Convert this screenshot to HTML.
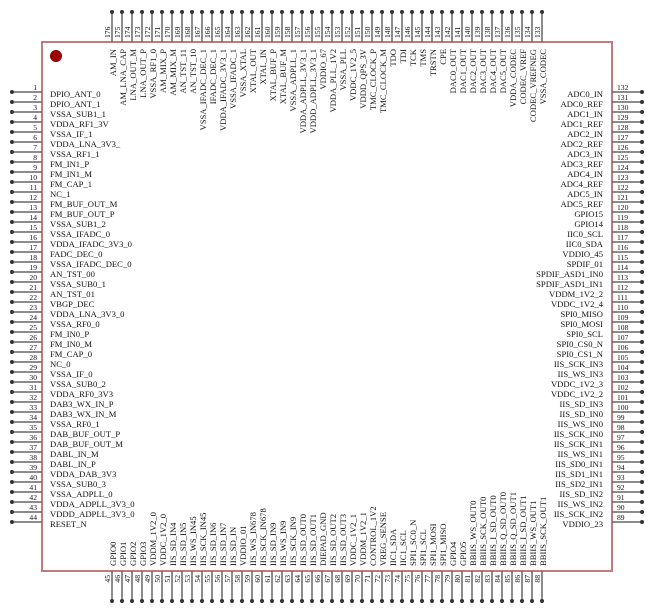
<!DOCTYPE html>
<html><head><meta charset="utf-8"><style>
html,body{margin:0;padding:0;background:#fff;}
svg{display:block;}
text{font-family:"Liberation Serif",serif;fill:#111;}
.l{font-size:8.6px;}
.n{font-size:7.6px;}
</style></head><body>
<svg width="654" height="614" viewBox="0 0 654 614" xmlns="http://www.w3.org/2000/svg">
<rect x="42" y="42" width="570" height="529" fill="#fff" stroke="#c47a7a" stroke-width="2"/>
<circle cx="56" cy="56" r="6" fill="#990000"/>
<g stroke="#666" stroke-width="1.5" fill="none">
<path d="M12 92h30M12 102h30M12 112h30M12 122h30M12 132h30M12 142h30M12 152h30M12 162h30M12 172h30M12 182h30M12 192h30M12 202h30M12 212h30M12 222h30M12 232h30M12 242h30M12 252h30M12 262h30M12 272h30M12 282h30M12 292h30M12 302h30M12 312h30M12 322h30M12 332h30M12 342h30M12 352h30M12 362h30M12 372h30M12 382h30M12 392h30M12 402h30M12 412h30M12 422h30M12 432h30M12 442h30M12 452h30M12 462h30M12 472h30M12 482h30M12 492h30M12 502h30M12 512h30M12 522h30"/>
<path d="M612 92h30M612 102h30M612 112h30M612 122h30M612 132h30M612 142h30M612 152h30M612 162h30M612 172h30M612 182h30M612 192h30M612 202h30M612 212h30M612 222h30M612 232h30M612 242h30M612 252h30M612 262h30M612 272h30M612 282h30M612 292h30M612 302h30M612 312h30M612 322h30M612 332h30M612 342h30M612 352h30M612 362h30M612 372h30M612 382h30M612 392h30M612 402h30M612 412h30M612 422h30M612 432h30M612 442h30M612 452h30M612 462h30M612 472h30M612 482h30M612 492h30M612 502h30M612 512h30M612 522h30"/>
<path d="M112 12v30M122 12v30M132 12v30M142 12v30M152 12v30M162 12v30M172 12v30M182 12v30M192 12v30M202 12v30M212 12v30M222 12v30M232 12v30M242 12v30M252 12v30M262 12v30M272 12v30M282 12v30M292 12v30M302 12v30M312 12v30M322 12v30M332 12v30M342 12v30M352 12v30M362 12v30M372 12v30M382 12v30M392 12v30M402 12v30M412 12v30M422 12v30M432 12v30M442 12v30M452 12v30M462 12v30M472 12v30M482 12v30M492 12v30M502 12v30M512 12v30M522 12v30M532 12v30M542 12v30"/>
<path d="M112 571v30M122 571v30M132 571v30M142 571v30M152 571v30M162 571v30M172 571v30M182 571v30M192 571v30M202 571v30M212 571v30M222 571v30M232 571v30M242 571v30M252 571v30M262 571v30M272 571v30M282 571v30M292 571v30M302 571v30M312 571v30M322 571v30M332 571v30M342 571v30M352 571v30M362 571v30M372 571v30M382 571v30M392 571v30M402 571v30M412 571v30M422 571v30M432 571v30M442 571v30M452 571v30M462 571v30M472 571v30M482 571v30M492 571v30M502 571v30M512 571v30M522 571v30M532 571v30M542 571v30"/>
</g>
<g stroke="#333" stroke-width="4" stroke-linecap="round" fill="none">
<path d="M12 92h0M12 102h0M12 112h0M12 122h0M12 132h0M12 142h0M12 152h0M12 162h0M12 172h0M12 182h0M12 192h0M12 202h0M12 212h0M12 222h0M12 232h0M12 242h0M12 252h0M12 262h0M12 272h0M12 282h0M12 292h0M12 302h0M12 312h0M12 322h0M12 332h0M12 342h0M12 352h0M12 362h0M12 372h0M12 382h0M12 392h0M12 402h0M12 412h0M12 422h0M12 432h0M12 442h0M12 452h0M12 462h0M12 472h0M12 482h0M12 492h0M12 502h0M12 512h0M12 522h0"/>
<path d="M642 92h0M642 102h0M642 112h0M642 122h0M642 132h0M642 142h0M642 152h0M642 162h0M642 172h0M642 182h0M642 192h0M642 202h0M642 212h0M642 222h0M642 232h0M642 242h0M642 252h0M642 262h0M642 272h0M642 282h0M642 292h0M642 302h0M642 312h0M642 322h0M642 332h0M642 342h0M642 352h0M642 362h0M642 372h0M642 382h0M642 392h0M642 402h0M642 412h0M642 422h0M642 432h0M642 442h0M642 452h0M642 462h0M642 472h0M642 482h0M642 492h0M642 502h0M642 512h0M642 522h0"/>
<path d="M112 12h0M122 12h0M132 12h0M142 12h0M152 12h0M162 12h0M172 12h0M182 12h0M192 12h0M202 12h0M212 12h0M222 12h0M232 12h0M242 12h0M252 12h0M262 12h0M272 12h0M282 12h0M292 12h0M302 12h0M312 12h0M322 12h0M332 12h0M342 12h0M352 12h0M362 12h0M372 12h0M382 12h0M392 12h0M402 12h0M412 12h0M422 12h0M432 12h0M442 12h0M452 12h0M462 12h0M472 12h0M482 12h0M492 12h0M502 12h0M512 12h0M522 12h0M532 12h0M542 12h0"/>
<path d="M112 601h0M122 601h0M132 601h0M142 601h0M152 601h0M162 601h0M172 601h0M182 601h0M192 601h0M202 601h0M212 601h0M222 601h0M232 601h0M242 601h0M252 601h0M262 601h0M272 601h0M282 601h0M292 601h0M302 601h0M312 601h0M322 601h0M332 601h0M342 601h0M352 601h0M362 601h0M372 601h0M382 601h0M392 601h0M402 601h0M412 601h0M422 601h0M432 601h0M442 601h0M452 601h0M462 601h0M472 601h0M482 601h0M492 601h0M502 601h0M512 601h0M522 601h0M532 601h0M542 601h0"/>
</g>

<!-- left numbers -->
<g class="n" text-anchor="end">
<text x="37" y="90">1</text><text x="37" y="100">2</text><text x="37" y="110">3</text><text x="37" y="120">4</text><text x="37" y="130">5</text><text x="37" y="140">6</text><text x="37" y="150">7</text><text x="37" y="160">8</text><text x="37" y="170">9</text><text x="37" y="180">10</text><text x="37" y="190">11</text><text x="37" y="200">12</text><text x="37" y="210">13</text><text x="37" y="220">14</text><text x="37" y="230">15</text><text x="37" y="240">16</text><text x="37" y="250">17</text><text x="37" y="260">18</text><text x="37" y="270">19</text><text x="37" y="280">20</text><text x="37" y="290">21</text><text x="37" y="300">22</text><text x="37" y="310">23</text><text x="37" y="320">24</text><text x="37" y="330">25</text><text x="37" y="340">26</text><text x="37" y="350">27</text><text x="37" y="360">28</text><text x="37" y="370">29</text><text x="37" y="380">30</text><text x="37" y="390">31</text><text x="37" y="400">32</text><text x="37" y="410">33</text><text x="37" y="420">34</text><text x="37" y="430">35</text><text x="37" y="440">36</text><text x="37" y="450">37</text><text x="37" y="460">38</text><text x="37" y="470">39</text><text x="37" y="480">40</text><text x="37" y="490">41</text><text x="37" y="500">42</text><text x="37" y="510">43</text><text x="37" y="520">44</text>
</g>
<!-- left labels -->
<g class="l">
<text x="50" y="97">DPIO_ANT_0</text><text x="50" y="107">DPIO_ANT_1</text><text x="50" y="117">VSSA_SUB1_1</text><text x="50" y="127">VDDA_RF1_3V</text><text x="50" y="137">VSSA_IF_1</text><text x="50" y="147">VDDA_LNA_3V3_</text><text x="50" y="157">VSSA_RF1_1</text><text x="50" y="167">FM_IN1_P</text><text x="50" y="177">FM_IN1_M</text><text x="50" y="187">FM_CAP_1</text><text x="50" y="197">NC_1</text><text x="50" y="207">FM_BUF_OUT_M</text><text x="50" y="217">FM_BUF_OUT_P</text><text x="50" y="227">VSSA_SUB1_2</text><text x="50" y="237">VSSA_IFADC_0</text><text x="50" y="247">VDDA_IFADC_3V3_0</text><text x="50" y="257">FADC_DEC_0</text><text x="50" y="267">VSSA_IFADC_DEC_0</text><text x="50" y="277">AN_TST_00</text><text x="50" y="287">VSSA_SUB0_1</text><text x="50" y="297">AN_TST_01</text><text x="50" y="307">VBGP_DEC</text><text x="50" y="317">VDDA_LNA_3V3_0</text><text x="50" y="327">VSSA_RF0_0</text><text x="50" y="337">FM_IN0_P</text><text x="50" y="347">FM_IN0_M</text><text x="50" y="357">FM_CAP_0</text><text x="50" y="367">NC_0</text><text x="50" y="377">VSSA_IF_0</text><text x="50" y="387">VSSA_SUB0_2</text><text x="50" y="397">VDDA_RF0_3V3</text><text x="50" y="407">DAB3_WX_IN_P</text><text x="50" y="417">DAB3_WX_IN_M</text><text x="50" y="427">VSSA_RF0_1</text><text x="50" y="437">DAB_BUF_OUT_P</text><text x="50" y="447">DAB_BUF_OUT_M</text><text x="50" y="457">DABL_IN_M</text><text x="50" y="467">DABL_IN_P</text><text x="50" y="477">VDDA_DAB_3V3</text><text x="50" y="487">VSSA_SUB0_3</text><text x="50" y="497">VSSA_ADPLL_0</text><text x="50" y="507">VDDA_ADPLL_3V3_0</text><text x="50" y="517">VDDD_ADPLL_3V3_0</text><text x="50" y="527">RESET_N</text>
</g>

<!-- right numbers -->
<g class="n">
<text x="617" y="90">132</text><text x="617" y="100">131</text><text x="617" y="110">130</text><text x="617" y="120">129</text><text x="617" y="130">128</text><text x="617" y="140">127</text><text x="617" y="150">126</text><text x="617" y="160">125</text><text x="617" y="170">124</text><text x="617" y="180">123</text><text x="617" y="190">122</text><text x="617" y="200">121</text><text x="617" y="210">120</text><text x="617" y="220">119</text><text x="617" y="230">118</text><text x="617" y="240">117</text><text x="617" y="250">116</text><text x="617" y="260">115</text><text x="617" y="270">114</text><text x="617" y="280">113</text><text x="617" y="290">112</text><text x="617" y="300">111</text><text x="617" y="310">110</text><text x="617" y="320">109</text><text x="617" y="330">108</text><text x="617" y="340">107</text><text x="617" y="350">106</text><text x="617" y="360">105</text><text x="617" y="370">104</text><text x="617" y="380">103</text><text x="617" y="390">102</text><text x="617" y="400">101</text><text x="617" y="410">100</text><text x="617" y="420">99</text><text x="617" y="430">98</text><text x="617" y="440">97</text><text x="617" y="450">96</text><text x="617" y="460">95</text><text x="617" y="470">94</text><text x="617" y="480">93</text><text x="617" y="490">92</text><text x="617" y="500">91</text><text x="617" y="510">90</text><text x="617" y="520">89</text>
</g>
<!-- right labels -->
<g class="l" text-anchor="end">
<text x="603" y="97">ADC0_IN</text><text x="603" y="107">ADC0_REF</text><text x="603" y="117">ADC1_IN</text><text x="603" y="127">ADC1_REF</text><text x="603" y="137">ADC2_IN</text><text x="603" y="147">ADC2_REF</text><text x="603" y="157">ADC3_IN</text><text x="603" y="167">ADC3_REF</text><text x="603" y="177">ADC4_IN</text><text x="603" y="187">ADC4_REF</text><text x="603" y="197">ADC5_IN</text><text x="603" y="207">ADC5_REF</text><text x="603" y="217">GPIO15</text><text x="603" y="227">GPIO14</text><text x="603" y="237">IIC0_SCL</text><text x="603" y="247">IIC0_SDA</text><text x="603" y="257">VDDIO_45</text><text x="603" y="267">SPDIF_01</text><text x="603" y="277">SPDIF_ASD1_IN0</text><text x="603" y="287">SPDIF_ASD1_IN1</text><text x="603" y="297">VDDM_1V2_2</text><text x="603" y="307">VDDC_1V2_4</text><text x="603" y="317">SPI0_MISO</text><text x="603" y="327">SPI0_MOSI</text><text x="603" y="337">SPI0_SCL</text><text x="603" y="347">SPI0_CS0_N</text><text x="603" y="357">SPI0_CS1_N</text><text x="603" y="367">IIS_SCK_IN3</text><text x="603" y="377">IIS_WS_IN3</text><text x="603" y="387">VDDC_1V2_3</text><text x="603" y="397">VDDC_1V2_2</text><text x="603" y="407">IIS_SD_IN3</text><text x="603" y="417">IIS_SD_IN0</text><text x="603" y="427">IIS_WS_IN0</text><text x="603" y="437">IIS_SCK_IN0</text><text x="603" y="447">IIS_SCK_IN1</text><text x="603" y="457">IIS_WS_IN1</text><text x="603" y="467">IIS_SD0_IN1</text><text x="603" y="477">IIS_SD1_IN1</text><text x="603" y="487">IIS_SD2_IN1</text><text x="603" y="497">IIS_SD_IN2</text><text x="603" y="507">IIS_WS_IN2</text><text x="603" y="517">IIS_SCK_IN2</text><text x="603" y="527">VDDIO_23</text>
</g>

<!-- top numbers -->
<g class="n">
<text transform="translate(110,38) rotate(-90)">176</text><text transform="translate(120,38) rotate(-90)">175</text><text transform="translate(130,38) rotate(-90)">174</text><text transform="translate(140,38) rotate(-90)">173</text><text transform="translate(150,38) rotate(-90)">172</text><text transform="translate(160,38) rotate(-90)">171</text><text transform="translate(170,38) rotate(-90)">170</text><text transform="translate(180,38) rotate(-90)">169</text><text transform="translate(190,38) rotate(-90)">168</text><text transform="translate(200,38) rotate(-90)">167</text><text transform="translate(210,38) rotate(-90)">166</text><text transform="translate(220,38) rotate(-90)">165</text><text transform="translate(230,38) rotate(-90)">164</text><text transform="translate(240,38) rotate(-90)">163</text><text transform="translate(250,38) rotate(-90)">162</text><text transform="translate(260,38) rotate(-90)">161</text><text transform="translate(270,38) rotate(-90)">160</text><text transform="translate(280,38) rotate(-90)">159</text><text transform="translate(290,38) rotate(-90)">158</text><text transform="translate(300,38) rotate(-90)">157</text><text transform="translate(310,38) rotate(-90)">156</text><text transform="translate(320,38) rotate(-90)">155</text><text transform="translate(330,38) rotate(-90)">154</text><text transform="translate(340,38) rotate(-90)">153</text><text transform="translate(350,38) rotate(-90)">152</text><text transform="translate(360,38) rotate(-90)">151</text><text transform="translate(370,38) rotate(-90)">150</text><text transform="translate(380,38) rotate(-90)">149</text><text transform="translate(390,38) rotate(-90)">148</text><text transform="translate(400,38) rotate(-90)">147</text><text transform="translate(410,38) rotate(-90)">146</text><text transform="translate(420,38) rotate(-90)">145</text><text transform="translate(430,38) rotate(-90)">144</text><text transform="translate(440,38) rotate(-90)">143</text><text transform="translate(450,38) rotate(-90)">142</text><text transform="translate(460,38) rotate(-90)">141</text><text transform="translate(470,38) rotate(-90)">140</text><text transform="translate(480,38) rotate(-90)">139</text><text transform="translate(490,38) rotate(-90)">138</text><text transform="translate(500,38) rotate(-90)">137</text><text transform="translate(510,38) rotate(-90)">136</text><text transform="translate(520,38) rotate(-90)">135</text><text transform="translate(530,38) rotate(-90)">134</text><text transform="translate(540,38) rotate(-90)">133</text>
</g>
<!-- top labels -->
<g class="l" text-anchor="end">
<text transform="translate(116,49) rotate(-90)">AM_IN</text><text transform="translate(126,49) rotate(-90)">AM_LNA_CAP</text><text transform="translate(136,49) rotate(-90)">LNA_OUT_M</text><text transform="translate(146,49) rotate(-90)">LNA_OUT_P</text><text transform="translate(156,49) rotate(-90)">VSSA_RF1_0</text><text transform="translate(166,49) rotate(-90)">AM_MIX_P</text><text transform="translate(176,49) rotate(-90)">AM_MIX_M</text><text transform="translate(186,49) rotate(-90)">AN_TST_11</text><text transform="translate(196,49) rotate(-90)">AN_TST_10</text><text transform="translate(206,49) rotate(-90)">VSSA_IFADC_DEC_1</text><text transform="translate(216,49) rotate(-90)">IFADC_DEC_1</text><text transform="translate(226,49) rotate(-90)">VDDA_IFADC_3V3_1</text><text transform="translate(236,49) rotate(-90)">VSSA_IFADC_1</text><text transform="translate(246,49) rotate(-90)">VSSA_XTAL</text><text transform="translate(256,49) rotate(-90)">XTAL_OUT</text><text transform="translate(266,49) rotate(-90)">XTAL_IN</text><text transform="translate(276,49) rotate(-90)">XTAL_BUF_P</text><text transform="translate(286,49) rotate(-90)">XTAL_BUF_M</text><text transform="translate(296,49) rotate(-90)">VSSA_ADPLL_1</text><text transform="translate(306,49) rotate(-90)">VDDA_ADPLL_3V3_1</text><text transform="translate(316,49) rotate(-90)">VDDD_ADPLL_3V3_1</text><text transform="translate(326,49) rotate(-90)">VDDIO_67</text><text transform="translate(336,49) rotate(-90)">VDDA_PLL_1V2</text><text transform="translate(346,49) rotate(-90)">VSSA_PLL</text><text transform="translate(356,49) rotate(-90)">VDDC_1V2_5</text><text transform="translate(366,49) rotate(-90)">VDDD_QPS_3V</text><text transform="translate(376,49) rotate(-90)">TMC_CLOCK_P</text><text transform="translate(386,49) rotate(-90)">TMC_CLOCK_M</text><text transform="translate(396,49) rotate(-90)">TDO</text><text transform="translate(406,49) rotate(-90)">TDI</text><text transform="translate(416,49) rotate(-90)">TCK</text><text transform="translate(426,49) rotate(-90)">TMS</text><text transform="translate(436,49) rotate(-90)">TRSTN</text><text transform="translate(446,49) rotate(-90)">CPE</text><text transform="translate(456,49) rotate(-90)">DAC0_OUT</text><text transform="translate(466,49) rotate(-90)">DAC1_OUT</text><text transform="translate(476,49) rotate(-90)">DAC2_OUT</text><text transform="translate(486,49) rotate(-90)">DAC3_OUT</text><text transform="translate(496,49) rotate(-90)">DAC4_OUT</text><text transform="translate(506,49) rotate(-90)">DAC5_OUT</text><text transform="translate(516,49) rotate(-90)">VDDA_CODEC</text><text transform="translate(526,49) rotate(-90)">CODEC_VREF</text><text transform="translate(536,49) rotate(-90)">CODEC_VREFNEG</text><text transform="translate(546,49) rotate(-90)">VSSA_CODEC</text>
</g>

<!-- bottom numbers -->
<g class="n" text-anchor="end">
<text transform="translate(110,575) rotate(-90)">45</text><text transform="translate(120,575) rotate(-90)">46</text><text transform="translate(130,575) rotate(-90)">47</text><text transform="translate(140,575) rotate(-90)">48</text><text transform="translate(150,575) rotate(-90)">49</text><text transform="translate(160,575) rotate(-90)">50</text><text transform="translate(170,575) rotate(-90)">51</text><text transform="translate(180,575) rotate(-90)">52</text><text transform="translate(190,575) rotate(-90)">53</text><text transform="translate(200,575) rotate(-90)">54</text><text transform="translate(210,575) rotate(-90)">55</text><text transform="translate(220,575) rotate(-90)">56</text><text transform="translate(230,575) rotate(-90)">57</text><text transform="translate(240,575) rotate(-90)">58</text><text transform="translate(250,575) rotate(-90)">59</text><text transform="translate(260,575) rotate(-90)">60</text><text transform="translate(270,575) rotate(-90)">61</text><text transform="translate(280,575) rotate(-90)">62</text><text transform="translate(290,575) rotate(-90)">63</text><text transform="translate(300,575) rotate(-90)">64</text><text transform="translate(310,575) rotate(-90)">65</text><text transform="translate(320,575) rotate(-90)">66</text><text transform="translate(330,575) rotate(-90)">67</text><text transform="translate(340,575) rotate(-90)">68</text><text transform="translate(350,575) rotate(-90)">69</text><text transform="translate(360,575) rotate(-90)">70</text><text transform="translate(370,575) rotate(-90)">71</text><text transform="translate(380,575) rotate(-90)">72</text><text transform="translate(390,575) rotate(-90)">73</text><text transform="translate(400,575) rotate(-90)">74</text><text transform="translate(410,575) rotate(-90)">75</text><text transform="translate(420,575) rotate(-90)">76</text><text transform="translate(430,575) rotate(-90)">77</text><text transform="translate(440,575) rotate(-90)">78</text><text transform="translate(450,575) rotate(-90)">79</text><text transform="translate(460,575) rotate(-90)">80</text><text transform="translate(470,575) rotate(-90)">81</text><text transform="translate(480,575) rotate(-90)">82</text><text transform="translate(490,575) rotate(-90)">83</text><text transform="translate(500,575) rotate(-90)">84</text><text transform="translate(510,575) rotate(-90)">85</text><text transform="translate(520,575) rotate(-90)">86</text><text transform="translate(530,575) rotate(-90)">87</text><text transform="translate(540,575) rotate(-90)">88</text>
</g>
<!-- bottom labels -->
<g class="l">
<text transform="translate(116,566) rotate(-90)">GPIO0</text><text transform="translate(126,566) rotate(-90)">GPIO1</text><text transform="translate(136,566) rotate(-90)">GPIO2</text><text transform="translate(146,566) rotate(-90)">GPIO3</text><text transform="translate(156,566) rotate(-90)">VDDM_1V2_0</text><text transform="translate(166,566) rotate(-90)">VDDC_1V2_0</text><text transform="translate(176,566) rotate(-90)">IIS_SD_IN4</text><text transform="translate(186,566) rotate(-90)">IIS_SD_IN5</text><text transform="translate(196,566) rotate(-90)">IIS_WS_IN45</text><text transform="translate(206,566) rotate(-90)">IIS_SCK_IN45</text><text transform="translate(216,566) rotate(-90)">IIS_SD_IN6</text><text transform="translate(226,566) rotate(-90)">IIS_SD_IN7</text><text transform="translate(236,566) rotate(-90)">IIS_SD_IN</text><text transform="translate(246,566) rotate(-90)">VDDIO_01</text><text transform="translate(256,566) rotate(-90)">IIS_WS_IN678</text><text transform="translate(266,566) rotate(-90)">IIS_SCK_IN678</text><text transform="translate(276,566) rotate(-90)">IIS_SD_IN9</text><text transform="translate(286,566) rotate(-90)">IIS_WS_IN9</text><text transform="translate(296,566) rotate(-90)">IIS_SCK_IN9</text><text transform="translate(306,566) rotate(-90)">IIS_SD_OUT0</text><text transform="translate(316,566) rotate(-90)">IIS_SD_OUT1</text><text transform="translate(326,566) rotate(-90)">DIEPAD_GND</text><text transform="translate(336,566) rotate(-90)">IIS_SD_OUT2</text><text transform="translate(346,566) rotate(-90)">IIS_SD_OUT3</text><text transform="translate(356,566) rotate(-90)">VDDC_1V2_1</text><text transform="translate(366,566) rotate(-90)">VDDM_1V2_1</text><text transform="translate(376,566) rotate(-90)">CONTROL_1V2</text><text transform="translate(386,566) rotate(-90)">VREG_SENSE</text><text transform="translate(396,566) rotate(-90)">IIC1_SDA</text><text transform="translate(406,566) rotate(-90)">IIC1_SCL</text><text transform="translate(416,566) rotate(-90)">SPI1_SC0_N</text><text transform="translate(426,566) rotate(-90)">SPI1_SCL</text><text transform="translate(436,566) rotate(-90)">SPI1_MOSI</text><text transform="translate(446,566) rotate(-90)">SPI1_MISO</text><text transform="translate(456,566) rotate(-90)">GPIO4</text><text transform="translate(466,566) rotate(-90)">GPIO5</text><text transform="translate(476,566) rotate(-90)">BBIIS_WS_OUT0</text><text transform="translate(486,566) rotate(-90)">BBIIS_SCK_OUT0</text><text transform="translate(496,566) rotate(-90)">BBIIS_I_SD_OUT0</text><text transform="translate(506,566) rotate(-90)">BBIIS_Q_SD_OUT0</text><text transform="translate(516,566) rotate(-90)">BBIIS_Q_SD_OUT1</text><text transform="translate(526,566) rotate(-90)">BBIIS_I_SD_OUT1</text><text transform="translate(536,566) rotate(-90)">BBIIS_WS_OUT1</text><text transform="translate(546,566) rotate(-90)">BBIIS_SCK_OUT1</text>
</g>
</svg>
</body></html>
